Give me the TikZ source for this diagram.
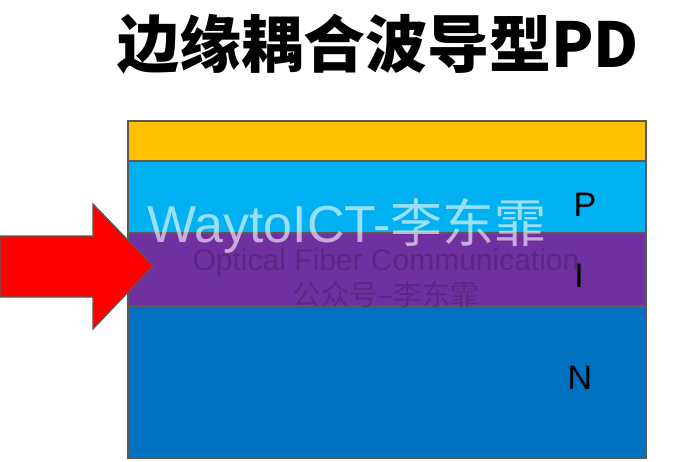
\documentclass[tikz,border=0pt]{standalone}
\usepackage{fontspec}
\setmainfont{Liberation Sans}
\newfontfamily\cjk{Noto Sans CJK SC}
\newfontfamily\latinsans{Liberation Sans}
\definecolor{layerorange}{HTML}{FFC000}
\definecolor{layercyan}{HTML}{00B0F0}
\definecolor{layerpurple}{HTML}{7030A0}
\definecolor{layerblue}{HTML}{0070C0}
\definecolor{edgegray}{HTML}{595959}
\tikzset{
  layer/.style={draw=edgegray, line width=1.5pt},
  lbl/.style={font=\latinsans\fontsize{34}{34}\selectfont, text=black},
  wmark/.style={text=white, text opacity=0.6},
  wmarkdark/.style={text=black, text opacity=0.18},
}
\begin{document}
\begin{tikzpicture}[x=1pt,y=-1pt]
\useasboundingbox (0,0) rectangle (692,462);
% layers
\path[layer, fill=layerblue]   (128,306) rectangle (646,458);
\path[layer, fill=layerpurple] (128,233) rectangle (646,306);
\path[layer, fill=layercyan]   (128,161) rectangle (646,233);
\path[layer, fill=layerorange] (128,121) rectangle (646,161);
% arrow
\path[draw=edgegray, line width=1.2pt, fill=red, line join=miter]
  (0,236) -- (93,236) -- (93,204) -- (153,266) -- (93,329) -- (93,297) -- (0,297) -- cycle;
% title
\node[font=\cjk\bfseries\fontsize{62}{62}\selectfont] (title) at (378,44) {边缘耦合波导型PD};
% labels
\node[lbl] (p) at (585,205) {P};
\node[lbl] (i) at (579,276) {I};
\node[lbl] (n) at (580,378) {N};
% watermark
\node[wmark, font=\fontsize{52}{52}\selectfont] (wm1) at (347,226) {\latinsans WaytoICT-\cjk 李东霏};
\node[wmarkdark, font=\latinsans\fontsize{30}{30}\selectfont] (wm2) at (386,263) {Optical Fiber Communication};
\node[wmarkdark, font=\cjk\fontsize{28.5}{28.5}\selectfont] (wm3) at (386,295) {公众号–李东霏};
\end{tikzpicture}
\end{document}
